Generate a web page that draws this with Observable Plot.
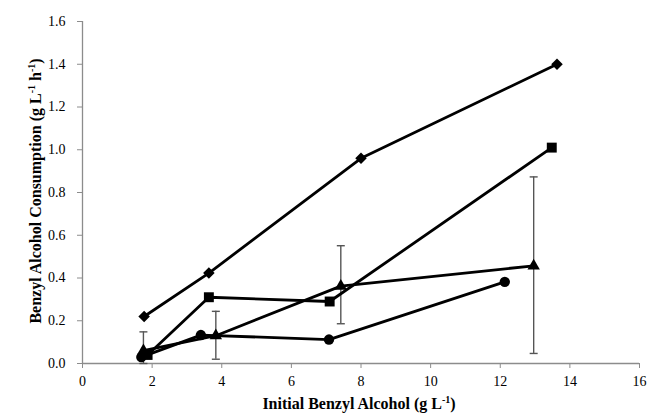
<!DOCTYPE html>
<html>
<head>
<meta charset="utf-8">
<script src="https://cdn.jsdelivr.net/npm/d3@7"></script>
<script src="https://cdn.jsdelivr.net/npm/@observablehq/plot@0.6"></script>
<style>
  html, body { margin: 0; padding: 0; background: #fff; }
</style>
</head>
<body>
<div id="chart"></div>
<script>
// Series (x = initial benzyl alcohol g/L, y = consumption g/L/h)
const diamondX = [1.77, 3.63, 8.0, 13.63];
const diamondY = [0.22, 0.423, 0.96, 1.40];

const squareX = [1.87, 3.63, 7.1, 13.48];
const squareY = [0.04, 0.31, 0.29, 1.01];

const triangleX = [1.75, 3.83, 7.42, 12.96];
const triangleY = [0.06, 0.13, 0.362, 0.457];
const triangleLow = [0.0, 0.02, 0.186, 0.047];
const triangleHigh = [0.148, 0.244, 0.551, 0.873];

const circleX = [1.69, 3.4, 7.08, 12.13];
const circleY = [0.03, 0.133, 0.112, 0.382];

const xTicks = [0, 2, 4, 6, 8, 10, 12, 14, 16];
const yTicks = [0, 0.2, 0.4, 0.6, 0.8, 1.0, 1.2, 1.4, 1.6];

const toRows = (xs, ys) => xs.map((x, i) => ({x, y: ys[i]}));
const diamond = toRows(diamondX, diamondY);
const square = toRows(squareX, squareY);
const triangle = toRows(triangleX, triangleY);
const circle = toRows(circleX, circleY);
const errRows = triangleX.map((x, i) => ({x, lo: triangleLow[i], hi: triangleHigh[i]}));

const capSymbol = {
  draw(ctx) { ctx.moveTo(-4, 0); ctx.lineTo(4, 0); }
};

const axisGray = "#8c8c8c";
const errGray = "#555555";
const serif = "'Liberation Serif', 'DejaVu Serif', serif";

const plot = Plot.plot({
  width: 648,
  height: 418,
  marginLeft: 82,
  marginRight: 9,
  marginTop: 21,
  marginBottom: 55,
  style: `font-family: ${serif}; font-size: 14px; background: #fff; color: black;`,
  x: {domain: [0, 16]},
  y: {domain: [0, 1.6]},
  marks: [
    Plot.axisX({ticks: xTicks, tickSize: 5, tickPadding: 8, stroke: axisGray, fill: "black", fontFamily: serif, fontSize: 14, label: null, tickFormat: d => String(d)}),
    Plot.axisY({ticks: yTicks, tickSize: 5, tickPadding: 12, stroke: axisGray, fill: "black", fontFamily: serif, fontSize: 14, label: null, tickFormat: d3.format(".1f")}),
    Plot.ruleY([0], {stroke: axisGray, strokeWidth: 1.3}),
    Plot.ruleX([0], {stroke: axisGray, strokeWidth: 1.3}),
    // error bars
    Plot.ruleX(errRows, {x: "x", y1: "lo", y2: "hi", stroke: errGray, strokeWidth: 1.4}),
    Plot.dot(errRows, {x: "x", y: "lo", symbol: capSymbol, stroke: errGray, strokeWidth: 1.4, fill: "none", r: 4}),
    Plot.dot(errRows, {x: "x", y: "hi", symbol: capSymbol, stroke: errGray, strokeWidth: 1.4, fill: "none", r: 4}),
    // lines
    Plot.line(diamond, {x: "x", y: "y", stroke: "black", strokeWidth: 2.8}),
    Plot.line(square, {x: "x", y: "y", stroke: "black", strokeWidth: 2.8}),
    Plot.line(triangle, {x: "x", y: "y", stroke: "black", strokeWidth: 2.8}),
    Plot.line(circle, {x: "x", y: "y", stroke: "black", strokeWidth: 2.8}),
    // markers
    Plot.dot(diamond, {x: "x", y: "y", symbol: "diamond2", fill: "black", stroke: "none", r: 5.2}),
    Plot.dot(square, {x: "x", y: "y", symbol: "square", fill: "black", stroke: "none", r: 5.6}),
    Plot.dot(triangle, {x: "x", y: "y", symbol: "triangle", fill: "black", stroke: "none", r: 4.6}),
    Plot.dot(circle, {x: "x", y: "y", symbol: "circle", fill: "black", stroke: "none", r: 5.2})
  ]
});

document.getElementById("chart").appendChild(plot);

// Axis titles with superscripts
const svg = d3.select(plot);
const xt = svg.append("text")
  .attr("x", 359).attr("y", 409)
  .attr("text-anchor", "middle")
  .attr("font-family", serif)
  .attr("font-weight", "bold")
  .attr("font-size", 16)
  .attr("fill", "black");
xt.append("tspan").text("Initial Benzyl Alcohol (g L");
xt.append("tspan").attr("dy", -6).attr("font-size", 10).text("-1");
xt.append("tspan").attr("dy", 6).text(")");

const yt = svg.append("text")
  .attr("transform", "translate(41,191) rotate(-90)")
  .attr("text-anchor", "middle")
  .attr("font-family", serif)
  .attr("font-weight", "bold")
  .attr("font-size", 16)
  .attr("fill", "black");
yt.append("tspan").text("Benzyl Alcohol Consumption (g L");
yt.append("tspan").attr("dy", -6).attr("font-size", 10).text("-1");
yt.append("tspan").attr("dy", 6).text(" h");
yt.append("tspan").attr("dy", -6).attr("font-size", 10).text("-1");
yt.append("tspan").attr("dy", 6).text(")");
</script>
</body>
</html>
